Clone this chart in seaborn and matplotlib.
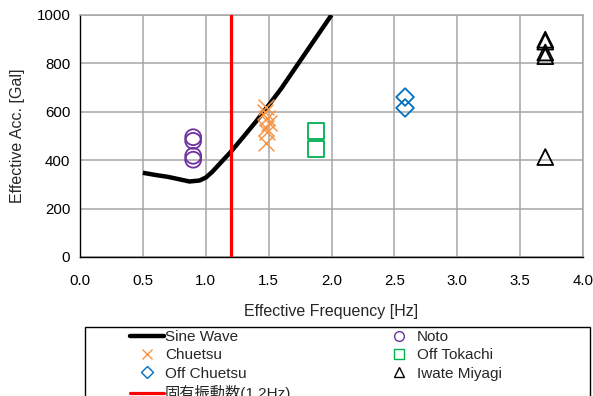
import numpy as np
import pandas as pd
import matplotlib
matplotlib.use("Agg")
import matplotlib.pyplot as plt
from matplotlib.lines import Line2D
from matplotlib.patches import Rectangle
import seaborn as sns

# Sine-wave threshold curve
sine_freq = [0.5, 0.6, 0.7, 0.8, 0.87, 0.95, 1.0, 1.05, 1.1, 1.15, 1.2, 1.3, 1.4,
             1.45, 1.5, 1.6, 1.7, 1.8, 1.9, 2.0]
sine_acc = [348, 339, 331, 320, 312, 316, 328, 351, 379, 407, 435, 497, 560,
            594, 627, 696, 772, 848, 924, 1000]

# Natural frequency of the structure
natural_freq = 1.2

# Earthquake records (effective frequency, effective acceleration)
noto_freq = [0.9, 0.9, 0.9, 0.9]
noto_acc = [495, 480, 418, 402]
chuetsu_freq = [1.48, 1.47, 1.49, 1.5, 1.48, 1.49, 1.48]
chuetsu_acc = [618, 598, 575, 555, 535, 515, 470]
tokachi_freq = [1.88, 1.88]
tokachi_acc = [521, 446]
offchuetsu_freq = [2.585, 2.585]
offchuetsu_acc = [661, 616]
iwate_freq = [3.7, 3.7, 3.7, 3.7, 3.7]
iwate_acc = [898, 890, 845, 830, 413]

x_ticks = [0.0, 0.5, 1.0, 1.5, 2.0, 2.5, 3.0, 3.5, 4.0]
y_ticks = [0, 200, 400, 600, 800, 1000]

sns.set_style("white")
plt.rcParams["font.family"] = ["Liberation Sans", "Noto Sans CJK JP", "DejaVu Sans"]

fig = plt.figure(figsize=(5.93, 3.96), dpi=100)
ax = fig.add_axes([80 / 593, 1 - 257 / 396, 503 / 593, 242 / 396])

ax.set_xlim(0, 4)
ax.set_ylim(0, 1000)
ax.set_xticks(x_ticks)
ax.set_yticks(y_ticks)
ax.set_xticklabels([f"{v:.1f}" for v in x_ticks])
ax.set_yticklabels([str(v) for v in y_ticks])
ax.grid(True, color="#a6a6a6", lw=1.1)
ax.set_axisbelow(True)
for side in ["top", "right"]:
    ax.spines[side].set_color("#a6a6a6")
    ax.spines[side].set_linewidth(1.1)
for side in ["left", "bottom"]:
    ax.spines[side].set_color("black")
    ax.spines[side].set_linewidth(1.0)
ax.tick_params(axis="x", direction="in", length=4, pad=12, labelsize=10.8, colors="black")
ax.tick_params(axis="y", direction="in", length=4, pad=7, labelsize=10.8, colors="black")

sine_df = pd.DataFrame({"freq": sine_freq, "acc": sine_acc})
sns.lineplot(data=sine_df, x="freq", y="acc", ax=ax, color="black", lw=3.2,
             sort=True, zorder=3, legend=False,
             solid_joinstyle="round", solid_capstyle="butt")
ax.axvline(natural_freq, color="#ff0000", lw=2.3, zorder=4)

ms = 130
groups = [
    ("Noto", noto_freq, noto_acc, "o", "#7030a0", True),
    ("Chuetsu", chuetsu_freq, chuetsu_acc, "x", "#f79646", False),
    ("Off Tokachi", tokachi_freq, tokachi_acc, "s", "#00b050", True),
    ("Off Chuetsu", offchuetsu_freq, offchuetsu_acc, "D", "#0070c0", True),
    ("Iwate Miyagi", iwate_freq, iwate_acc, "^", "black", True),
]
for name, fx, fy, mk, col, hollow in groups:
    df = pd.DataFrame({"freq": fx, "acc": fy})
    size = ms * (0.62 if mk == "D" else 1.0)
    if hollow:
        sns.scatterplot(data=df, x="freq", y="acc", ax=ax, marker=mk, s=size,
                        color=col, facecolors="none", edgecolor=col,
                        linewidth=1.3, zorder=5, legend=False)
    else:
        sns.scatterplot(data=df, x="freq", y="acc", ax=ax, marker=mk, s=size,
                        color=col, linewidth=1.1, zorder=5, legend=False)

ax.set_xlabel("Effective Frequency [Hz]", fontsize=11.5)
ax.set_ylabel("Effective Acc. [Gal]", fontsize=11.5)
ax.xaxis.set_label_coords(0.5, -(304 - 257) / 242)
ax.yaxis.set_label_coords(-(80 - 25) / 503, 0.5)


def mhandle(mk, col, hollow=True, size=7):
    return Line2D([], [], ls="none", marker=mk, markersize=size,
                  markerfacecolor="none" if hollow else col,
                  markeredgecolor=col, markeredgewidth=1.0)


legend_style = dict(loc="upper left", frameon=False, fontsize=11, borderpad=0,
                    borderaxespad=0, handlelength=2.2, handletextpad=0.08,
                    labelspacing=0.28)

# Left legend column
left_handles = [
    Line2D([], [], color="black", lw=3.2),
    mhandle("x", "#f79646", hollow=False),
    mhandle("D", "#0070c0", size=6),
    Line2D([], [], color="#ff0000", lw=2.3),
]
left_labels = ["Sine Wave", "Chuetsu", "Off Chuetsu", "固有振動数(1.2Hz)"]
fig.legend(left_handles, left_labels,
           bbox_to_anchor=(130 / 593, 1 - 330 / 396), **legend_style)

# Right legend column
right_handles = [
    mhandle("o", "#7030a0"),
    mhandle("s", "#00b050"),
    mhandle("^", "black"),
]
right_labels = ["Noto", "Off Tokachi", "Iwate Miyagi"]
fig.legend(right_handles, right_labels,
           bbox_to_anchor=(382 / 593, 1 - 330 / 396), **legend_style)

fig.patches.append(Rectangle((85 / 593, -0.05), (590 - 85) / 593, 0.05 + (396 - 327) / 396,
                             transform=fig.transFigure, fill=False,
                             edgecolor="black", lw=1.0))

fig.savefig("out.png", dpi=100)
